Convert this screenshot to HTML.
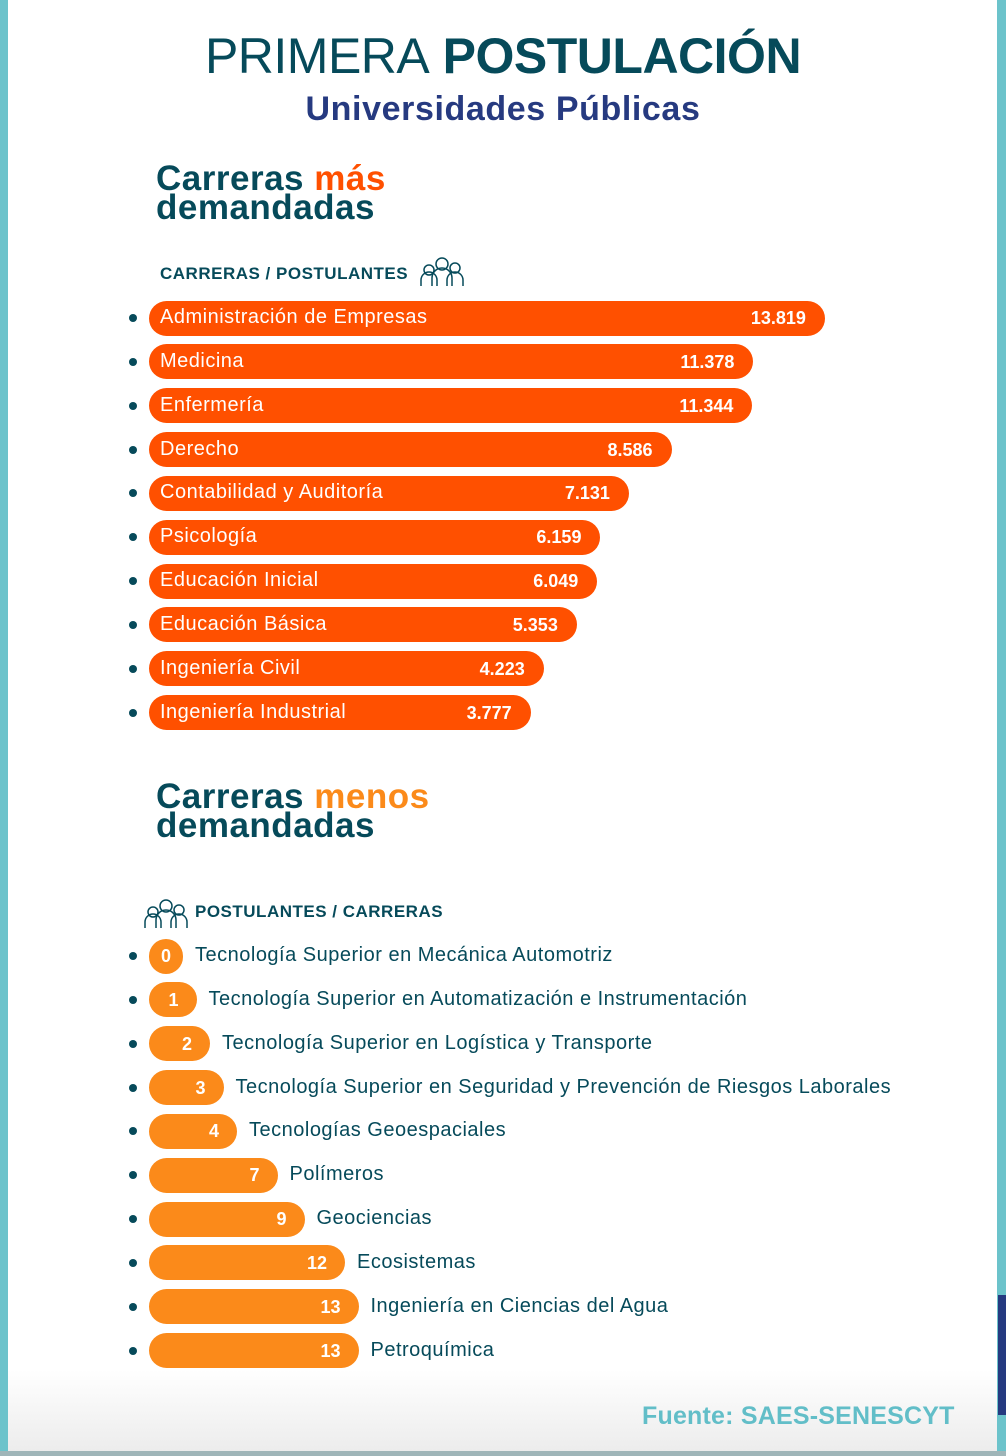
<!DOCTYPE html>
<html><head><meta charset="utf-8">
<style>
html,body{margin:0;padding:0;}
body{width:1006px;height:1456px;position:relative;overflow:hidden;background:#fff;font-family:"Liberation Sans",sans-serif;}
.abs{position:absolute;}
</style></head>
<body>
<div class="abs" style="left:0;top:0;width:8px;height:1456px;background:#6cc3cb"></div>
<div class="abs" style="left:997px;top:0;width:9px;height:1456px;background:#6cc3cb"></div>
<div class="abs" style="left:998px;top:1295px;width:8px;height:120px;background:#253a80"></div>
<div class="abs" style="left:8px;top:1370px;width:989px;height:82px;background:linear-gradient(#fff,#ececec)"></div>
<div class="abs" style="left:0;top:1451px;width:1006px;height:5px;background:#9fb5b8"></div>

<div class="abs" style="left:0;width:1006px;top:28px;text-align:center;font-size:50px;color:#064a5a;line-height:56px;letter-spacing:-0.5px"><span style="font-weight:300">PRIMERA</span> <b>POSTULACIÓN</b></div>
<div class="abs" style="left:0;width:1006px;top:89px;text-align:center;font-size:34px;letter-spacing:0.6px;font-weight:bold;color:#263a80;line-height:40px">Universidades Públicas</div>

<div class="abs" style="left:156px;top:164px;font-size:35px;letter-spacing:0.5px;font-weight:bold;color:#064a5a;line-height:29px">Carreras <span style="color:#ff5000">más</span><br>demandadas</div>
<div class="abs" style="left:160px;top:264px;font-size:17px;letter-spacing:0.5px;font-weight:bold;color:#064a5a">CARRERAS / POSTULANTES</div>
<svg class="abs" style="left:419px;top:254px" width="46" height="32" viewBox="0 0 46 32" fill="none" stroke="#064a5a" stroke-width="1.5"><circle cx="10" cy="16" r="5"/><circle cx="23" cy="10" r="6"/><circle cx="36" cy="14" r="5"/><path d="M2 32v-6a8 8 0 0 1 16 0v6M13 32v-8a10 10 0 0 1 20 0v8M28 32v-6a8 8 0 0 1 16 0v6"/></svg>

<div class="abs" style="left:156px;top:782px;font-size:35px;letter-spacing:0.5px;font-weight:bold;color:#064a5a;line-height:29px">Carreras <span style="color:#fb8a1a">menos</span><br>demandadas</div>
<svg class="abs" style="left:143px;top:896px" width="46" height="32" viewBox="0 0 46 32" fill="none" stroke="#064a5a" stroke-width="1.5"><circle cx="10" cy="16" r="5"/><circle cx="23" cy="10" r="6"/><circle cx="36" cy="14" r="5"/><path d="M2 32v-6a8 8 0 0 1 16 0v6M13 32v-8a10 10 0 0 1 20 0v8M28 32v-6a8 8 0 0 1 16 0v6"/></svg>
<div class="abs" style="left:195px;top:902px;font-size:17px;letter-spacing:0.5px;font-weight:bold;color:#064a5a">POSTULANTES / CARRERAS</div>

<div class="abs" style="left:642px;top:1402px;font-size:25px;letter-spacing:0.2px;font-weight:bold;color:#62bec8">Fuente: SAES-SENESCYT</div>

<div id="chart"></div>
<script>
const topCategories=["Administración de Empresas","Medicina","Enfermería","Derecho","Contabilidad y Auditoría","Psicología","Educación Inicial","Educación Básica","Ingeniería Civil","Ingeniería Industrial"];
const topValues=[13819,11378,11344,8586,7131,6159,6049,5353,4223,3777];
const topLabels=["13.819","11.378","11.344","8.586","7.131","6.159","6.049","5.353","4.223","3.777"];
const lowCategories=["Tecnología Superior en Mecánica Automotriz","Tecnología Superior en Automatización e Instrumentación","Tecnología Superior en Logística y Transporte","Tecnología Superior en Seguridad y Prevención de Riesgos Laborales","Tecnologías Geoespaciales","Polímeros","Geociencias","Ecosistemas","Ingeniería en Ciencias del Agua","Petroquímica"];
const lowValues=[0,1,2,3,4,7,9,12,13,13];

const chart=document.getElementById('chart');
const x0=149,rowH=43.85,barH=35;
function topEnd(v){return 420+0.0293*v;}
function lowEnd(v){return 183+13.5*v;}
function mk(style){const d=document.createElement('div');d.className='abs';d.style.cssText=style;chart.appendChild(d);return d;}

topValues.forEach((v,i)=>{
  const cy=318+i*rowH;
  const b=mk(`left:129px;top:${cy-4}px;width:8px;height:8px;border-radius:50%;background:#064a5a`);
  
  
  const bar=mk(`left:${x0}px;top:${cy-barH/2}px;width:${topEnd(v)-x0}px;height:${barH}px;border-radius:18px;background:#ff5000`);
  
  
  const t=mk(`left:${x0+11}px;top:${cy-12}px;font-size:20px;letter-spacing:0.5px;line-height:22px;color:#fff;white-space:nowrap`);
  t.textContent=topCategories[i];
  
  
  const n=mk(`left:${topEnd(v)-159}px;width:140px;text-align:right;top:${cy-11}px;font-size:18px;line-height:22px;font-weight:bold;color:#fff`);
  n.textContent=topLabels[i];
  
  
});

lowValues.forEach((v,i)=>{
  const cy=956+i*rowH;
  const e=lowEnd(v);
  const b=mk(`left:129px;top:${cy-4}px;width:8px;height:8px;border-radius:50%;background:#064a5a`);
  
  
  const bar=mk(`left:${x0}px;top:${cy-barH/2}px;width:${e-x0}px;height:${barH}px;border-radius:18px;background:#fb8a1a`);
  
  
  const n=mk(`left:${v===0?x0:e-140}px;width:${v===0?e-x0:122}px;text-align:${v===0?'center':'right'};top:${cy-11}px;font-size:18px;line-height:22px;font-weight:bold;color:#fff`);
  n.textContent=String(v);
  
  
  const t=mk(`left:${e+12}px;top:${cy-12}px;font-size:20px;letter-spacing:0.5px;line-height:22px;color:#064a5a;white-space:nowrap`);
  t.textContent=lowCategories[i];
  
  
});
</script>
</body></html>
